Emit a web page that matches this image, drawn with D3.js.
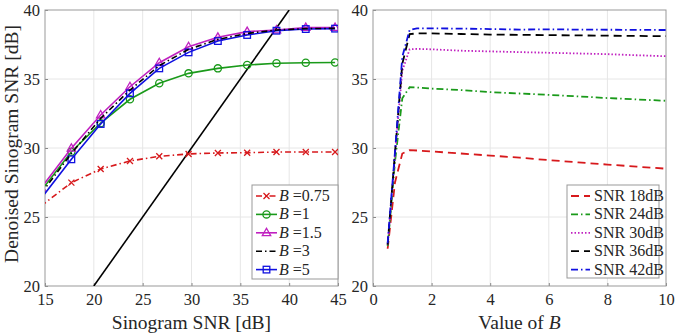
<!DOCTYPE html>
<meta charset="utf-8">
<head>
    <title>Denoised SNR</title>
    <script src="https://d3js.org/d3.v7.min.js"></script>
    <style>
        body { margin: 0; background: #fff; }
        svg text { font-family: "Liberation Serif", "DejaVu Serif", serif !important; fill: #262626; }
    </style>
</head>
<body>
<div id="chart"></div>
<script>
    // ---- data: left panel (Sinogram SNR vs denoised SNR, per B) ----
    var sinoSNR = [14.6, 17.7, 20.7, 23.7, 26.7, 29.7, 32.7, 35.7, 38.7, 41.7, 44.7];
    var b075 = [25.8, 27.49, 28.48, 29.06, 29.4, 29.57, 29.64, 29.66, 29.71, 29.71, 29.71];
    var b1   = [26.9, 29.73, 31.8, 33.53, 34.69, 35.41, 35.77, 36.01, 36.14, 36.18, 36.2];
    var b15  = [27.1, 29.98, 32.39, 34.44, 36.18, 37.34, 38.02, 38.43, 38.55, 38.72, 38.72];
    var b3   = [26.7, 29.6, 32.15, 34.2, 35.97, 37.15, 37.87, 38.3, 38.55, 38.65, 38.67];
    var b5   = [26.35, 29.18, 31.74, 33.96, 35.77, 36.93, 37.75, 38.19, 38.5, 38.62, 38.65];
    var leftLabels = ["0.75", "1", "1.5", "3", "5"];
    var identityLine = [20, 40];

    // ---- data: right panel (value of B vs denoised SNR, per sinogram SNR) ----
    var bValues = [0.5, 0.75, 1, 1.25, 1.5, 2, 3, 4, 5, 6, 7, 8, 9, 10];
    var snr18 = [22.7, 27.5, 29.6, 29.85, 29.82, 29.75, 29.6, 29.45, 29.3, 29.12, 28.96, 28.8, 28.65, 28.5];
    var snr24 = [22.9, 29.0, 33.6, 34.4, 34.38, 34.3, 34.2, 34.05, 33.95, 33.85, 33.74, 33.62, 33.52, 33.42];
    var snr30 = [23.0, 29.5, 35.6, 37.15, 37.18, 37.15, 37.05, 37.0, 36.95, 36.9, 36.85, 36.8, 36.72, 36.65];
    var snr36 = [23.0, 29.65, 36.1, 38.25, 38.3, 38.3, 38.26, 38.22, 38.2, 38.18, 38.16, 38.14, 38.12, 38.1];
    var snr42 = [23.1, 29.7, 36.6, 38.55, 38.67, 38.67, 38.65, 38.62, 38.58, 38.6, 38.58, 38.57, 38.56, 38.55];
    var rightLabels = ["SNR 18dB", "SNR 24dB", "SNR 30dB", "SNR 36dB", "SNR 42dB"];

    var W = 675, H = 333;
    var FONT = "'Liberation Serif', 'DejaVu Serif', serif";
    var svg = d3.select("#chart").append("svg")
        .attr("width", W).attr("height", H)
        .attr("font-family", FONT);

    var y = d3.scaleLinear().domain([20, 40]).range([286, 10]);
    var xL = d3.scaleLinear().domain([15, 45]).range([45, 338]);
    var xR = d3.scaleLinear().domain([0, 10]).range([373, 666]);

    function panel(x, xticks, id) {
        var g = svg.append("g");
        var r = x.range();
        svg.append("clipPath").attr("id", id)
            .append("rect").attr("x", r[0]).attr("y", 10).attr("width", r[1] - r[0]).attr("height", 276);
        // grid
        g.selectAll(".gx").data(xticks.slice(1, -1)).enter().append("line")
            .attr("x1", d => x(d)).attr("x2", d => x(d)).attr("y1", 10).attr("y2", 286)
            .attr("stroke", "#e6e6e6");
        g.selectAll(".gy").data([25, 30, 35]).enter().append("line")
            .attr("x1", r[0]).attr("x2", r[1]).attr("y1", d => y(d)).attr("y2", d => y(d))
            .attr("stroke", "#e6e6e6");
        // axes
        var ax = g.append("g").attr("transform", "translate(0,286)")
            .call(d3.axisBottom(x).tickValues(xticks).tickSize(-3).tickPadding(7));
        var ay = g.append("g").attr("transform", "translate(" + r[0] + ",0)")
            .call(d3.axisLeft(y).tickValues([20, 25, 30, 35, 40]).tickSize(-3).tickPadding(5));
        [ax, ay].forEach(function(a) {
            a.attr("font-family", FONT);
            a.select(".domain").remove();
            a.selectAll("line").attr("stroke", "#888");
            a.selectAll("text").style("font-size", "16.5px").attr("fill", "#262626");
        });
        g.append("rect").attr("x", r[0]).attr("y", 10).attr("width", r[1] - r[0]).attr("height", 276)
            .attr("fill", "none").attr("stroke", "#999").attr("stroke-width", 1);
        return svg.append("g").attr("clip-path", "url(#" + id + ")");
    }

    var gL = panel(xL, [15, 20, 25, 30, 35, 40, 45], "clipL");
    var gR = panel(xR, [0, 2, 4, 6, 8, 10], "clipR");

    // ---- left panel lines ----
    var leftSeries = [
        {v: b075, color: "#d7191c", dash: "6,3,1.5,3", marker: "x"},
        {v: b1, color: "#1a9a1a", dash: null, marker: "circle"},
        {v: b15, color: "#c020c0", dash: null, marker: "triangle"},
        {v: b3, color: "#000", dash: "6,3,1.5,3", marker: null},
        {v: b5, color: "#1010e0", dash: null, marker: "square"}
    ];
    var drawOrder = [0, 1, 2, 4, 3];
    var lineL = d3.line().x((d, i) => xL(sinoSNR[i])).y(d => y(d));

    // identity line y = x
    gL.append("path")
        .attr("d", d3.line().x(d => xL(d)).y(d => y(d))(identityLine))
        .attr("stroke", "#000").attr("stroke-width", 1.6).attr("fill", "none");

    function marker(g, type, cx, cy, color) {
        if (type === "x") {
            g.append("path").attr("d", "M" + (cx - 3) + "," + (cy - 3) + "L" + (cx + 3) + "," + (cy + 3) +
                "M" + (cx - 3) + "," + (cy + 3) + "L" + (cx + 3) + "," + (cy - 3))
                .attr("stroke", color).attr("stroke-width", 1.3);
        } else if (type === "circle") {
            g.append("circle").attr("cx", cx).attr("cy", cy).attr("r", 3.6)
                .attr("fill", "none").attr("stroke", color).attr("stroke-width", 1.3);
        } else if (type === "triangle") {
            g.append("path").attr("d", "M" + cx + "," + (cy - 4.5) + "L" + (cx + 4.2) + "," + (cy + 2.8) +
                "L" + (cx - 4.2) + "," + (cy + 2.8) + "Z")
                .attr("fill", "none").attr("stroke", color).attr("stroke-width", 1.3);
        } else if (type === "square") {
            g.append("rect").attr("x", cx - 3.3).attr("y", cy - 3.3).attr("width", 6.6).attr("height", 6.6)
                .attr("fill", "none").attr("stroke", color).attr("stroke-width", 1.3);
        }
    }

    drawOrder.forEach(function(k) {
        var s = leftSeries[k];
        gL.append("path").attr("d", lineL(s.v))
            .attr("stroke", s.color).attr("stroke-width", 1.6).attr("fill", "none")
            .attr("stroke-dasharray", s.dash);
        if (s.marker) s.v.forEach(function(d, i) { marker(gL, s.marker, xL(sinoSNR[i]), y(d), s.color); });
    });

    // ---- right panel lines ----
    var rightSeries = [
        {v: snr18, color: "#d7191c", dash: "8,5"},
        {v: snr24, color: "#1a9a1a", dash: "7,3,1.5,3"},
        {v: snr30, color: "#c020c0", dash: "1.5,2"},
        {v: snr36, color: "#000", dash: "8,5"},
        {v: snr42, color: "#1010e0", dash: "7,3,1.5,3"}
    ];
    var lineR = d3.line().x((d, i) => xR(bValues[i])).y(d => y(d));
    rightSeries.forEach(function(s) {
        gR.append("path").attr("d", lineR(s.v))
            .attr("stroke", s.color).attr("stroke-width", 1.8).attr("fill", "none")
            .attr("stroke-dasharray", s.dash);
    });

    // ---- legends ----
    function legend(x0, y0, w, h, items, drawSample) {
        var g = svg.append("g");
        g.append("rect").attr("x", x0).attr("y", y0).attr("width", w).attr("height", h)
            .attr("fill", "#fff").attr("stroke", "#999");
        items.forEach(function(it, i) {
            var cy = y0 + 11 + i * 18.4;
            drawSample(g, i, x0 + 4, x0 + 25, cy);
            var t = g.append("text").attr("x", x0 + 27).attr("y", cy + 5).style("font-size", "16px");
            it(t);
        });
    }

    legend(252, 185, 86, 94, leftLabels.map(function(l) {
        return function(t) {
            t.append("tspan").attr("font-style", "italic").text("B");
            t.append("tspan").text(" =" + l);
        };
    }), function(g, i, x1, x2, cy) {
        var s = leftSeries[i];
        g.append("line").attr("x1", x1).attr("x2", x2).attr("y1", cy).attr("y2", cy)
            .attr("stroke", s.color).attr("stroke-width", 1.6).attr("stroke-dasharray", s.dash);
        if (s.marker) marker(g, s.marker, (x1 + x2) / 2, cy, s.color);
    });

    legend(567, 185, 92, 93, rightLabels.map(function(l) {
        return function(t) { t.text(l); };
    }), function(g, i, x1, x2, cy) {
        var s = rightSeries[i];
        g.append("line").attr("x1", x1).attr("x2", x2 - 2).attr("y1", cy).attr("y2", cy)
            .attr("stroke", s.color).attr("stroke-width", 1.8).attr("stroke-dasharray", s.dash);
    });

    // ---- axis labels ----
    svg.append("text").attr("x", 191.5).attr("y", 329).attr("text-anchor", "middle")
        .style("font-size", "19.5px").text("Sinogram SNR [dB]");
    var xlab = svg.append("text").attr("x", 519.5).attr("y", 329).attr("text-anchor", "middle")
        .style("font-size", "19.5px");
    xlab.append("tspan").text("Value of ");
    xlab.append("tspan").attr("font-style", "italic").text("B");
    svg.append("text").attr("transform", "translate(18,144) rotate(-90)").attr("text-anchor", "middle")
        .style("font-size", "19.5px").text("Denoised Sinogram SNR [dB]");
</script>
</body>
